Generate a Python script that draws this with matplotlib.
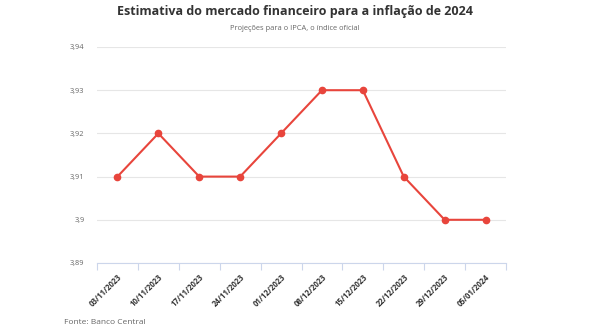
import matplotlib
matplotlib.use("Agg")
import matplotlib.pyplot as plt
from matplotlib.ticker import FixedLocator

plt.rcParams['font.family'] = ['Open Sans', 'DejaVu Sans']

dates = ["03/11/2023", "10/11/2023", "17/11/2023", "24/11/2023", "01/12/2023",
         "08/12/2023", "15/12/2023", "22/12/2023", "29/12/2023", "05/01/2024"]
ipca = [3.91, 3.92, 3.91, 3.91, 3.92, 3.93, 3.93, 3.91, 3.90, 3.90]
y_ticks = [3.89, 3.90, 3.91, 3.92, 3.93, 3.94]
y_tick_labels = ["3,89", "3,9", "3,91", "3,92", "3,93", "3,94"]

fig = plt.figure(figsize=(5.9, 3.3), dpi=100)
ax = fig.add_axes([97/590, 1-263/330, (506-97)/590, (263-47)/330])

x = list(range(len(dates)))
ax.plot(x, ipca, color="#e8453c", lw=1.5, marker="o", ms=4.5, mec="#e8453c",
        mfc="#e8453c", zorder=3, clip_on=False)

ax.set_xlim(-0.5, len(dates) - 0.5)
ax.set_ylim(3.89, 3.94)
ax.set_yticks(y_ticks)
ax.set_yticklabels(y_tick_labels)
ax.set_xticks(x)
ax.set_xticklabels(dates, rotation=45, ha="right", rotation_mode="anchor",
                   fontsize=5.6, fontweight="bold", color="#333333")
ax.xaxis.set_minor_locator(FixedLocator([i - 0.5 for i in range(len(dates) + 1)]))
ax.tick_params(axis="x", which="major", length=0, pad=7)
ax.tick_params(axis="x", which="minor", length=5, color="#ccd6eb", width=0.8)
ax.tick_params(axis="y", length=0, labelsize=5.3, labelcolor="#666666", pad=9)

ax.grid(axis="y", color="#e6e6e6", lw=0.8)
ax.set_axisbelow(True)
for s in ["top", "right", "left"]:
    ax.spines[s].set_visible(False)
ax.spines["bottom"].set_color("#ccd6eb")
ax.spines["bottom"].set_linewidth(0.8)

fig.text(0.5, 1 - 11/330, "Estimativa do mercado financeiro para a inflação de 2024",
         ha="center", va="center", fontsize=9, fontweight="bold", color="#333333")
fig.text(0.5, 1 - 28/330, "Projeções para o IPCA, o índice oficial",
         ha="center", va="center", fontsize=5.4, color="#666666")
fig.text(64/590, 1 - 322/330, "Fonte: Banco Central", ha="left", va="center",
         fontsize=6, color="#666666")

fig.savefig("out.png", dpi=100, facecolor="white")
